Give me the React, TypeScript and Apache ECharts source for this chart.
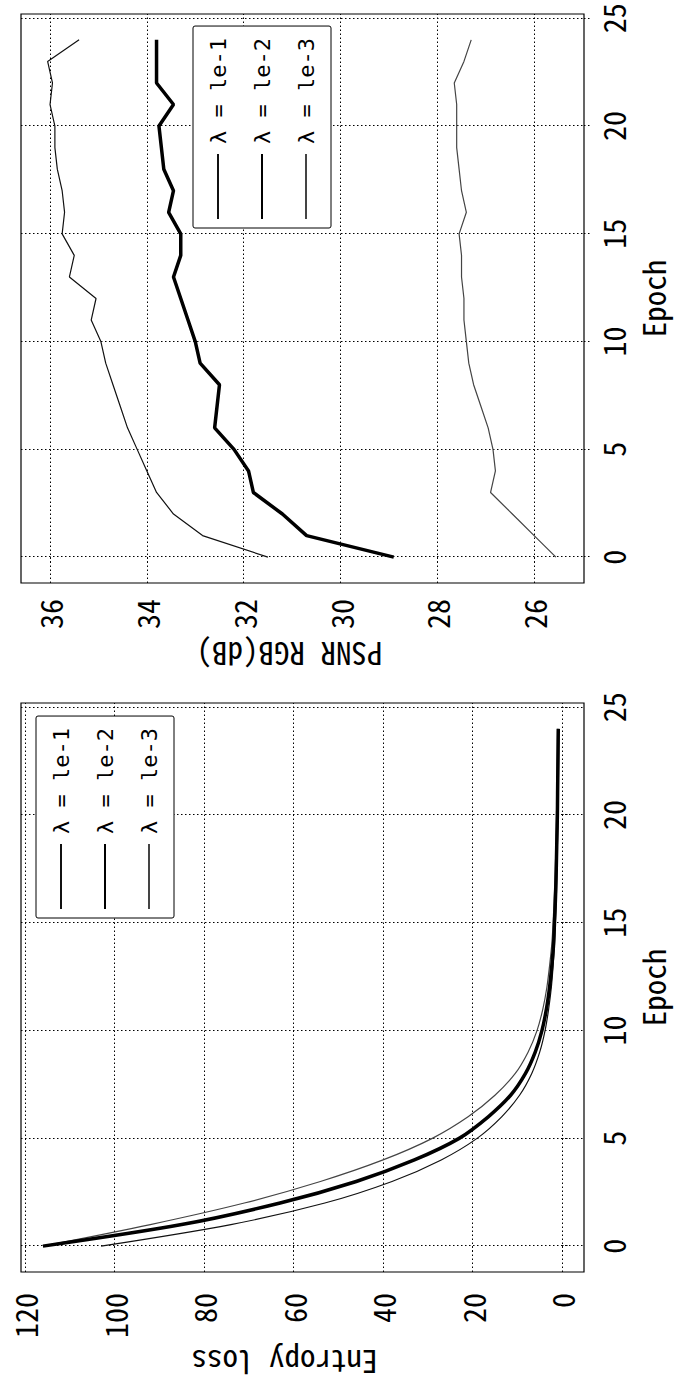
import React, { useEffect, useRef } from "react";
import * as echarts from "echarts";

// ---- data ----
const epochs = [0, 1, 2, 3, 4, 5, 6, 7, 8, 9, 10, 11, 12, 13, 14, 15, 16, 17, 18, 19, 20, 21, 22, 23, 24];
const seriesNames = ["λ = le-1", "λ = le-2", "λ = le-3"];

const entropyL1 = [103, 74, 53, 38, 27, 19, 13.5, 9.5, 6.8, 5, 3.8, 3, 2.4, 2, 1.7, 1.5, 1.3, 1.2, 1.1, 1, 0.9, 0.85, 0.8, 0.75, 0.7];
const entropyL2 = [116, 85, 63, 46, 33, 23, 16.5, 11.5, 8.2, 6, 4.5, 3.5, 2.8, 2.3, 1.9, 1.7, 1.5, 1.35, 1.25, 1.15, 1.05, 1.0, 0.95, 0.9, 0.85];
const entropyL3 = [116, 92, 71, 54, 40, 29, 21, 15, 10.5, 7.6, 5.6, 4.3, 3.4, 2.8, 2.3, 2.0, 1.8, 1.6, 1.45, 1.35, 1.25, 1.15, 1.1, 1.05, 1.0];

const psnrL1 = [31.5, 32.85, 33.45, 33.8, 34.0, 34.2, 34.4, 34.55, 34.7, 34.85, 34.95, 35.15, 35.05, 35.6, 35.5, 35.75, 35.7, 35.75, 35.85, 35.9, 35.9, 36.0, 35.95, 36.05, 35.4];
const psnrL2 = [28.9, 30.7, 31.2, 31.8, 31.9, 32.2, 32.6, 32.55, 32.5, 32.9, 33.0, 33.15, 33.3, 33.45, 33.3, 33.3, 33.55, 33.45, 33.65, 33.7, 33.75, 33.45, 33.8, 33.8, 33.8];
const psnrL3 = [25.55, 26.0, 26.45, 26.9, 26.8, 26.85, 26.95, 27.1, 27.25, 27.35, 27.4, 27.45, 27.45, 27.5, 27.5, 27.55, 27.4, 27.5, 27.55, 27.6, 27.6, 27.6, 27.65, 27.45, 27.3];

const epochTicks = [0, 5, 10, 15, 20, 25];
const entropyTicks = [0, 20, 40, 60, 80, 100, 120];
const psnrTicks = [26, 28, 30, 32, 34, 36];

// ---- styles ----
const FONT = '"Noto Sans Mono CJK JP", "DejaVu Sans Mono", monospace';
const LEGEND_FONT = '"DejaVu Sans Mono", monospace';
const lineStyles = [
  { width: 1.2, color: "#111" },
  { width: 3.5, color: "#000" },
  { width: 1.2, color: "#444" },
];
const DOT = [1.5, 2.5];

export default function App() {
  const ref = useRef<HTMLDivElement>(null);

  useEffect(() => {
    document.body.style.margin = "0";
    const chart = echarts.init(ref.current!, null, { renderer: "svg", width: 1389, height: 678 });

    const mkSeries = (vals: number[], idx: number, gi: number) => ({
      type: "line",
      name: seriesNames[idx],
      xAxisIndex: gi,
      yAxisIndex: gi,
      data: epochs.map((e, i) => [e, vals[i]]),
      symbol: "none",
      smooth: gi === 0 ? 0.3 : false,
      lineStyle: { ...lineStyles[idx] },
      itemStyle: { color: lineStyles[idx].color },
      z: idx === 1 ? 3 : 2,
    });

    const xAxisFor = (gi: number) => ({
      type: "value",
      gridIndex: gi,
      min: -1.2,
      max: 25.2,
      splitNumber: 5,
      minInterval: 5,
      maxInterval: 5,
      name: "Epoch",
      nameLocation: "middle",
      nameGap: 53,
      nameTextStyle: { fontFamily: FONT, fontSize: 31, color: "#000" },
      axisLine: { show: false },
      axisTick: { show: true, inside: false, length: 8, customValues: epochTicks, lineStyle: { color: "#000", type: DOT, width: 1 } },
      axisLabel: { customValues: epochTicks, margin: 14, fontFamily: FONT, fontSize: 30, color: "#000" },
      splitLine: { show: true, lineStyle: { color: "#000", type: DOT, width: 1 } },
    });

    const yAxisFor = (gi: number, min: number, max: number, step: number, ticks: number[], name: string, gap: number, margin: number, shift: number) => ({
      type: "value",
      gridIndex: gi,
      min,
      max,
      minInterval: step,
      maxInterval: step,
      name,
      nameLocation: "middle",
      nameRotate: 90,
      nameGap: gap,
      nameTextStyle: { fontFamily: FONT, fontSize: 31, color: "#000", padding: [0, 0, 0, shift] },
      axisLine: { show: false },
      axisTick: { show: true, inside: false, length: 8, customValues: ticks, lineStyle: { color: "#000", type: DOT, width: 1 } },
      axisLabel: { customValues: ticks, margin, fontFamily: FONT, fontSize: 30, color: "#000" },
      splitLine: { show: true, lineStyle: { color: "#000", type: DOT, width: 1 } },
    });

    const legendFor = (left: number, top: number) => ({
      data: seriesNames,
      orient: "vertical",
      left,
      top,
      itemWidth: 65,
      itemHeight: 22,
      itemGap: 22,
      padding: [14, 12, 14, 8],
      borderColor: "#000",
      borderWidth: 1,
      borderRadius: 2,
      backgroundColor: "#fff",
      itemStyle: { opacity: 0 },
      textStyle: { fontFamily: LEGEND_FONT, fontSize: 22, color: "#000", padding: [0, 0, 0, 5] },
      selectedMode: false,
    });

    chart.setOption({
      animation: false,
      backgroundColor: "#fff",
      grid: [
        { left: 117, top: 21, width: 569, height: 563, show: true, borderColor: "#000", borderWidth: 1.2, backgroundColor: "transparent", outerBoundsMode: "none" },
        { left: 806, top: 21, width: 569, height: 563, show: true, borderColor: "#000", borderWidth: 1.2, backgroundColor: "transparent", outerBoundsMode: "none" },
      ],
      xAxis: [xAxisFor(0), xAxisFor(1)],
      yAxis: [
        yAxisFor(0, -4.9, 120.9, 20, entropyTicks, "Entropy loss", 76, 21, 36),
        yAxisFor(1, 24.97, 36.6, 2, psnrTicks, "PSNR RGB(dB)", 57, 16, 26),
      ],
      legend: [legendFor(471, 36), legendFor(1161, 193)],
      series: [
        mkSeries(entropyL1, 0, 0),
        mkSeries(entropyL2, 1, 0),
        mkSeries(entropyL3, 2, 0),
        mkSeries(psnrL1, 0, 1),
        mkSeries(psnrL2, 1, 1),
        mkSeries(psnrL3, 2, 1),
      ],
    });

    return () => chart.dispose();
  }, []);

  return (
    <div style={{ position: "absolute", left: 0, top: 0, width: 678, height: 1389, overflow: "hidden", background: "#fff" }}>
      <div
        ref={ref}
        style={{
          position: "absolute",
          left: 0,
          top: 0,
          width: 1389,
          height: 678,
          transformOrigin: "0 0",
          transform: "translate(0px, 1389px) rotate(-90deg)",
        }}
      />
    </div>
  );
}
